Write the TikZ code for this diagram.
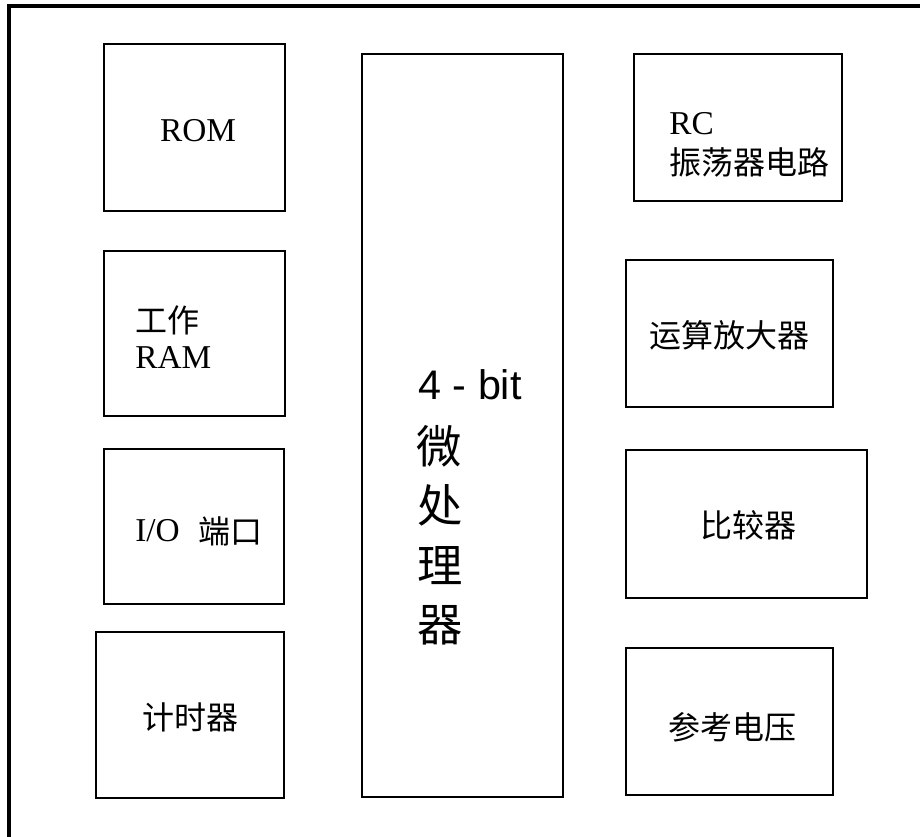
\documentclass[tikz,border=0pt]{standalone}
\usepackage{fontspec}
\setmainfont{Liberation Serif}
\newfontfamily\cjk{Noto Sans CJK SC}
\newfontfamily\arialf{Liberation Sans}
\tikzset{
  pbox/.style={draw=black, line width=1.6pt, rectangle, inner sep=0pt, outer sep=0pt},
  frameline/.style={line width=3pt},
  lbl/.style={inner sep=0pt, font=\fontsize{25}{30}\selectfont},
  clbl/.style={inner sep=0pt, font=\cjk\fontsize{24}{30}\selectfont},
  big/.style={inner sep=0pt, font=\arialf\fontsize{31}{36}\selectfont},
  bigc/.style={inner sep=0pt, font=\cjk\fontsize{34}{40}\selectfont}
}
\newcommand\pbox[5]{\node[pbox, minimum width={(#4-#2)*0.75pt}, minimum height={(#5-#3)*0.75pt}] (#1) at ({(#2+#4)/2},{(#3+#5)/2}) {};}
\begin{document}
\begin{tikzpicture}[x=0.75pt,y=-0.75pt]
\useasboundingbox (0,0) rectangle (920,837);
\coordinate (fbl) at (9,837);
\coordinate (ftl) at (9,6);
\coordinate (ftr) at (920,6);
\draw[frameline] (fbl) -- (ftl) -- (ftr);
\pbox{rom}{104}{44}{285}{211}
\pbox{ram}{104}{251}{285}{416}
\pbox{io}{104}{449}{284}{604}
\pbox{timer}{96}{632}{284}{798}
\pbox{cpu}{362}{54}{563}{797}
\pbox{rc}{634}{54}{842}{201}
\pbox{opamp}{626}{260}{833}{407}
\pbox{cmp}{626}{450}{867}{598}
\pbox{ref}{626}{648}{833}{795}
% texts
\node[lbl] (tRom) at (198,131) {ROM};
\node[clbl, anchor=west] (tGz) at (135,320) {工作};
\node[lbl, anchor=west] (tRam) at (135,357) {RAM};
\node[lbl, anchor=west] (tIo) at (135,531) {I/O};
\node[clbl, anchor=west] (tPort) at (198,531) {端口};
\node[clbl] (tTimer) at (190,717) {计时器};
\node[big] (tBit) at (470,385) {4 - bit};
\node[bigc] (tW) at (439,446) {微};
\node[bigc] (tC) at (440,505) {处};
\node[bigc] (tL) at (440,566) {理};
\node[bigc] (tQ) at (440,625) {器};
\node[lbl, anchor=west] (tRc) at (669,124) {RC};
\node[clbl, anchor=west] (tOsc) at (669,162) {振荡器电路};
\node[clbl] (tOp) at (729,335) {运算放大器};
\node[clbl] (tCmp) at (748,525) {比较器};
\node[clbl] (tRef) at (732,727) {参考电压};
\end{tikzpicture}
\end{document}
